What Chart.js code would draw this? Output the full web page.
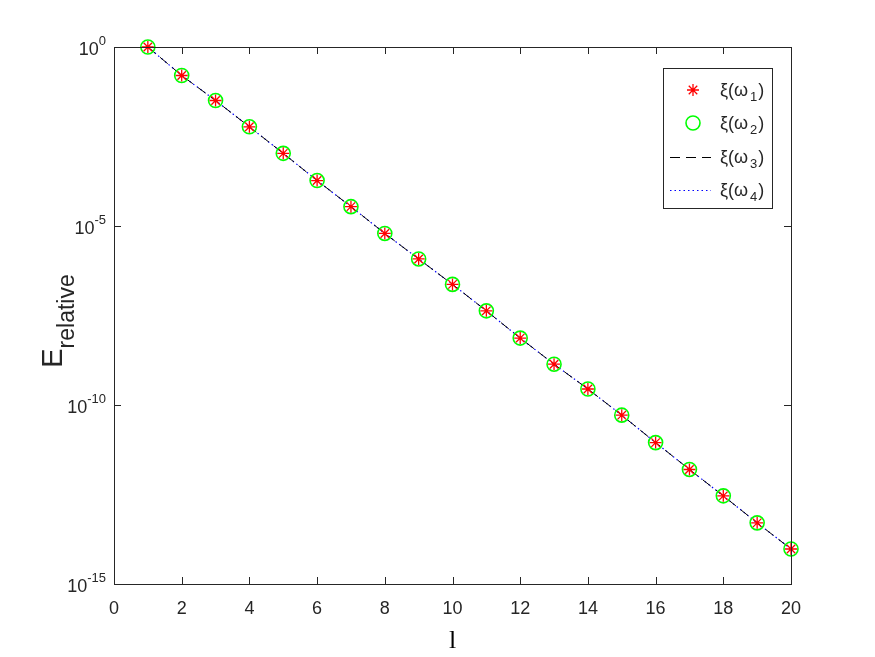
<!DOCTYPE html>
<html lang="en">
    <head>
        <meta charset="UTF-8" />
        <title>Relative error vs l</title>
        <script src="https://cdn.jsdelivr.net/npm/chart.js@4.4.1/dist/chart.umd.min.js"></script>
        <style>
          body { margin: 0; background: #fff; }
        </style>
    </head>
    <body>
      <canvas id="chart1" width="875" height="657"></canvas>
      <script>
        // data
        const lValues = [1, 2, 3, 4, 5, 6, 7, 8, 9, 10, 11, 12, 13, 14, 15, 16, 17, 18, 19, 20];
        const xiOmega1 = [1.0e0, 1.6e-1, 3.2e-2, 5.9e-3, 1.07e-3, 1.86e-4, 3.47e-5, 6.2e-6, 1.2e-6, 2.34e-7,
                          4.27e-8, 7.4e-9, 1.38e-9, 2.8e-10, 5.2e-11, 8.9e-12, 1.58e-12, 2.9e-13, 5.1e-14, 9.5e-15];
        const xiOmega2 = [1.0e0, 1.6e-1, 3.2e-2, 5.9e-3, 1.07e-3, 1.86e-4, 3.47e-5, 6.2e-6, 1.2e-6, 2.34e-7,
                          4.27e-8, 7.4e-9, 1.38e-9, 2.8e-10, 5.2e-11, 8.9e-12, 1.58e-12, 2.9e-13, 5.1e-14, 9.5e-15];
        const xiOmega3 = [1.0e0, 1.6e-1, 3.2e-2, 5.9e-3, 1.07e-3, 1.86e-4, 3.47e-5, 6.2e-6, 1.2e-6, 2.34e-7,
                          4.27e-8, 7.4e-9, 1.38e-9, 2.8e-10, 5.2e-11, 8.9e-12, 1.58e-12, 2.9e-13, 5.1e-14, 9.5e-15];
        const xiOmega4 = [1.0e0, 1.6e-1, 3.2e-2, 5.9e-3, 1.07e-3, 1.86e-4, 3.47e-5, 6.2e-6, 1.2e-6, 2.34e-7,
                          4.27e-8, 7.4e-9, 1.38e-9, 2.8e-10, 5.2e-11, 8.9e-12, 1.58e-12, 2.9e-13, 5.1e-14, 9.5e-15];
        const seriesSubs = ['1', '2', '3', '4'];
        const yTickValues = [1e0, 1e-5, 1e-10, 1e-15];
        const yTickExps = ['0', '-5', '-10', '-15'];
        const xTickValues = [0, 2, 4, 6, 8, 10, 12, 14, 16, 18, 20];

        const axisColor = '#262626';
        const sansFont = "'Liberation Sans', Arial, sans-serif";

        function toPoints(ys){
          return lValues.map((l, i) => ({x: l, y: ys[i]}));
        }

        const data = {
          datasets: [{
            label: 'xi1',
            data: toPoints(xiOmega1),
            showLine: false,
            clip: false,
            pointStyle: 'star',
            pointRadius: 6,
            borderColor: '#ff0000',
            borderWidth: 1.3,
            backgroundColor: '#ff0000'
          },
          {
            label: 'xi2',
            data: toPoints(xiOmega2),
            showLine: false,
            clip: false,
            pointStyle: 'circle',
            pointRadius: 7,
            borderColor: '#00ff00',
            borderWidth: 1.6,
            backgroundColor: 'rgba(0,0,0,0)'
          },
          {
            label: 'xi3',
            data: toPoints(xiOmega3),
            clip: false,
            pointRadius: 0,
            borderColor: '#000000',
            borderWidth: 1,
            borderDash: [10, 6],
            tension: 0
          },
          {
            label: 'xi4',
            data: toPoints(xiOmega4),
            clip: false,
            pointRadius: 0,
            borderColor: '#0000ff',
            borderWidth: 1.2,
            borderDash: [1.5, 3],
            tension: 0
          }]
        };

        //draws the box, inward ticks, y tick labels, titles and legend
        const matlabAxes = {
          id: 'matlabAxes',
          afterDraw(chart){
            const { ctx, chartArea: { top, bottom, left, right } } = chart;
            const xs = chart.scales.x;
            const ys = chart.scales.y;
            ctx.save();

            //box
            ctx.strokeStyle = axisColor;
            ctx.lineWidth = 1;
            ctx.strokeRect(left + 0.5, top + 0.5, right - left, bottom - top);

            //tick marks
            const tl = 7;
            ctx.beginPath();
            xTickValues.forEach(v => {
              const px = Math.round(xs.getPixelForValue(v)) + 0.5;
              ctx.moveTo(px, bottom); ctx.lineTo(px, bottom - tl);
              ctx.moveTo(px, top); ctx.lineTo(px, top + tl);
            });
            yTickValues.forEach(v => {
              const py = Math.round(ys.getPixelForValue(v)) + 0.5;
              ctx.moveTo(left, py); ctx.lineTo(left + tl, py);
              ctx.moveTo(right, py); ctx.lineTo(right - tl, py);
            });
            ctx.stroke();

            //y tick labels 10^n
            ctx.fillStyle = axisColor;
            ctx.textBaseline = 'alphabetic';
            yTickValues.forEach((v, i) => {
              const py = ys.getPixelForValue(v);
              ctx.font = '13px ' + sansFont;
              const ew = ctx.measureText(yTickExps[i]).width;
              ctx.textAlign = 'left';
              const ex = left - 8 - ew;
              ctx.fillText(yTickExps[i], ex, py - 2);
              ctx.font = '18px ' + sansFont;
              ctx.textAlign = 'right';
              ctx.fillText('10', ex, py + 8);
            });

            //y title E_relative
            ctx.save();
            ctx.translate(62, 321);
            ctx.rotate(-Math.PI / 2);
            ctx.font = '29px ' + sansFont;
            ctx.textAlign = 'left';
            const ew = ctx.measureText('E').width;
            ctx.font = '23px ' + sansFont;
            const rw = ctx.measureText('relative').width;
            const start = -(ew + rw) / 2;
            ctx.font = '29px ' + sansFont;
            ctx.fillText('E', start, 0);
            ctx.font = '23px ' + sansFont;
            ctx.fillText('relative', start + ew, 12);
            ctx.restore();

            //x title
            ctx.font = "26px 'Liberation Serif', 'Times New Roman', serif";
            ctx.textAlign = 'center';
            ctx.fillStyle = '#000';
            ctx.fillText('l', (left + right) / 2, 648);

            //legend
            const lx = 663, ly = 68, lw = 109, lh = 140;
            ctx.fillStyle = '#fff';
            ctx.fillRect(lx, ly, lw, lh);
            ctx.strokeStyle = axisColor;
            ctx.strokeRect(lx + 0.5, ly + 0.5, lw, lh);
            const rowsY = [90, 123, 157, 190];
            chart.data.datasets.forEach((ds, i) => {
              const cy = rowsY[i];
              if (i === 0) {
                ctx.strokeStyle = ds.borderColor; ctx.fillStyle = ds.borderColor; ctx.lineWidth = 1.3;
                Chart.helpers.drawPoint(ctx, {pointStyle: 'star', radius: 6, borderWidth: 1.3}, 693, cy);
              } else if (i === 1) {
                ctx.strokeStyle = ds.borderColor; ctx.lineWidth = 1.6;
                ctx.beginPath(); ctx.arc(693, cy, 7, 0, Math.PI * 2); ctx.stroke();
              } else {
                ctx.strokeStyle = ds.borderColor; ctx.lineWidth = ds.borderWidth;
                ctx.setLineDash(ds.borderDash);
                ctx.beginPath(); ctx.moveTo(670, cy + 0.5); ctx.lineTo(711, cy + 0.5); ctx.stroke();
                ctx.setLineDash([]);
              }
              ctx.fillStyle = axisColor;
              ctx.textAlign = 'left';
              ctx.font = '18px ' + sansFont;
              let tx = 720;
              ctx.fillText('\u03BE(\u03C9', tx, cy + 6);
              tx += ctx.measureText('\u03BE(\u03C9').width + 2;
              ctx.font = '13px ' + sansFont;
              ctx.fillText(seriesSubs[i], tx, cy + 11);
              tx += ctx.measureText(seriesSubs[i]).width + 1;
              ctx.font = '18px ' + sansFont;
              ctx.fillText(')', tx, cy + 6);
            });

            ctx.restore();
          }
        };

        const config = {
          type: 'line',
          data: data,
          options: {
            responsive: false,
            animation: false,
            layout: { padding: { top: 47, right: 84, left: 0, bottom: 0 } },
            plugins: { legend: { display: false }, tooltip: { enabled: false } },
            scales: {
              x: {
                type: 'linear',
                min: 0,
                max: 20,
                grid: { display: false, drawTicks: false },
                border: { display: false },
                ticks: {
                  stepSize: 2,
                  padding: 14,
                  color: axisColor,
                  font: { family: sansFont, size: 18 }
                },
                afterFit(scale){ scale.height = 73; }
              },
              y: {
                type: 'logarithmic',
                min: 1e-15,
                max: 1,
                grid: { display: false, drawTicks: false },
                border: { display: false },
                ticks: { display: false },
                afterBuildTicks(scale){ scale.ticks = yTickValues.map(v => ({value: v})); },
                afterFit(scale){ scale.width = 114; }
              }
            }
          },
          plugins: [matlabAxes]
        };

        const myChart = new Chart(document.getElementById('chart1'), config);
      </script>
    </body>
</html>
